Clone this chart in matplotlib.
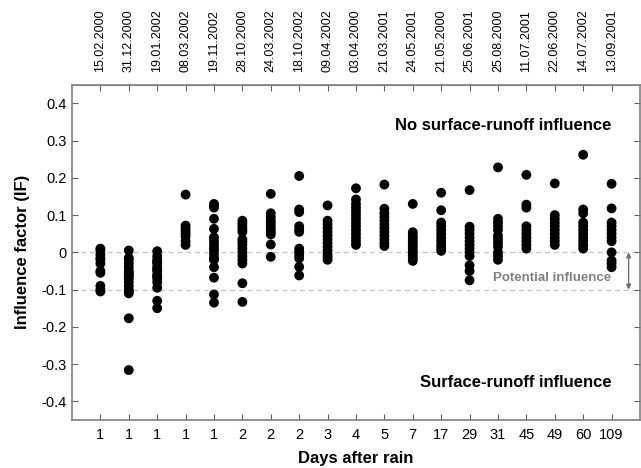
import matplotlib
matplotlib.use("Agg")
import matplotlib.pyplot as plt
import numpy as np

plt.rcParams['font.family'] = ['Liberation Sans', 'DejaVu Sans']

days = ["1", "1", "1", "1", "1", "2", "2", "2", "3", "4", "5", "7", "17", "29", "31", "45", "49", "60", "109"]
dates = ["15.02.2000", "31.12.2000", "19.01.2002", "08.03.2002", "19.11.2002", "28.10.2000",
         "24.03.2002", "18.10.2002", "09.04.2002", "03.04.2000", "21.03.2001", "24.05.2001",
         "21.05.2000", "25.06.2001", "25.08.2000", "11.07.2001", "22.06.2000", "14.07.2002", "13.09.2001"]

if_01 = [0.01, 0.005, -0.005, -0.015, -0.02, -0.03, -0.05, -0.055, -0.09, -0.1, -0.105]
if_02 = [0.005, -0.015, -0.02, -0.03, -0.04, -0.05, -0.055, -0.06, -0.065, -0.07, -0.08, -0.09, -0.1, -0.105, -0.11, -0.177, -0.316]
if_03 = [0.003, -0.01, -0.02, -0.025, -0.03, -0.04, -0.045, -0.05, -0.06, -0.065, -0.07, -0.08, -0.095, -0.13, -0.15]
if_04 = [0.155, 0.072, 0.065, 0.058, 0.05, 0.042, 0.03, 0.02]
if_05 = [0.13, 0.125, 0.12, 0.09, 0.063, 0.04, 0.03, 0.02, 0.012, 0.005, -0.005, -0.015, -0.02, -0.04, -0.068, -0.113, -0.135]
if_06 = [0.085, 0.078, 0.07, 0.062, 0.055, 0.035, 0.028, 0.02, 0.01, 0.0, -0.01, -0.02, -0.03, -0.083, -0.133]
if_07 = [0.157, 0.105, 0.095, 0.085, 0.078, 0.07, 0.062, 0.055, 0.048, 0.021, -0.012]
if_08 = [0.205, 0.115, 0.108, 0.07, 0.062, 0.055, 0.01, 0.002, -0.008, -0.016, -0.039, -0.062]
if_09 = [0.126, 0.085, 0.075, 0.065, 0.055, 0.045, 0.035, 0.025, 0.015, 0.005, -0.005, -0.012, -0.02]
if_10 = [0.172, 0.142, 0.13, 0.12, 0.11, 0.1, 0.09, 0.08, 0.07, 0.06, 0.05, 0.04, 0.03, 0.02]
if_11 = [0.182, 0.117, 0.105, 0.095, 0.085, 0.075, 0.065, 0.055, 0.045, 0.035, 0.025, 0.017]
if_12 = [0.13, 0.054, 0.045, 0.038, 0.03, 0.022, 0.015, 0.007, 0.0, -0.008, -0.015, -0.023]
if_13 = [0.16, 0.113, 0.08, 0.07, 0.06, 0.05, 0.04, 0.03, 0.02, 0.012, 0.004]
if_14 = [0.167, 0.069, 0.06, 0.05, 0.04, 0.03, 0.02, 0.01, 0.0, -0.01, -0.035, -0.05, -0.075]
if_15 = [0.228, 0.09, 0.08, 0.07, 0.06, 0.045, 0.035, 0.025, 0.015, 0.0, -0.01, -0.02]
if_16 = [0.208, 0.128, 0.12, 0.07, 0.06, 0.05, 0.04, 0.03, 0.02, 0.01]
if_17 = [0.185, 0.1, 0.09, 0.08, 0.07, 0.06, 0.05, 0.04, 0.03, 0.02]
if_18 = [0.262, 0.115, 0.105, 0.08, 0.07, 0.06, 0.05, 0.04, 0.03, 0.02, 0.01]
if_19 = [0.184, 0.118, 0.08, 0.07, 0.06, 0.05, 0.04, 0.03, 0.0, -0.022, -0.03, -0.04]

series = [if_01, if_02, if_03, if_04, if_05, if_06, if_07, if_08, if_09, if_10,
          if_11, if_12, if_13, if_14, if_15, if_16, if_17, if_18, if_19]

yticks = [0.4, 0.3, 0.2, 0.1, 0.0, -0.1, -0.2, -0.3, -0.4]
ytick_labels = ["0.4", "0.3", "0.2", "0.1", "0", "-0.1", "-0.2", "-0.3", "-0.4"]

fig = plt.figure(figsize=(6.41, 4.68), dpi=100)
ax = fig.add_axes([0.1123, 0.1026, 0.8861, 0.7164])

positions = np.arange(1, len(series) + 1)
for pos, vals in zip(positions, series):
    ax.scatter([pos] * len(vals), vals, s=50, color='black', edgecolors='none', zorder=3)

ax.axhline(0.0, color='#c4c4c4', lw=0.9, ls=(0, (4, 3)), zorder=1)
ax.axhline(-0.1, color='#c4c4c4', lw=0.9, ls=(0, (4, 3)), zorder=1)

ax.set_xlim(0, len(series) + 1)
ax.set_ylim(-0.45, 0.45)
ax.set_xticks(positions)
ax.set_xticklabels(days, fontsize=10.5)
ax.set_yticks(yticks)
ax.set_yticklabels(ytick_labels, fontsize=10.5)

for sp in ax.spines.values():
    sp.set_color('#808080')
    sp.set_linewidth(1.2)

ax.tick_params(axis='both', direction='in', length=4, width=0.8, color='#606060',
               right=True, pad=6)
ax.tick_params(axis='y', pad=4)

top = ax.secondary_xaxis('top')
top.set_xticks(positions)
top.set_xticklabels(dates, rotation=90, fontsize=9)
top.tick_params(direction='in', length=4, width=0.8, color='#606060', pad=9)
top.spines['top'].set_color('#808080')

ax.set_xlabel("Days after rain", fontsize=12, fontweight='bold', labelpad=6)
ax.set_ylabel("Influence factor (IF)", fontsize=12, fontweight='bold', labelpad=8)

ax.text(19.0, 0.34, "No surface-runoff influence", fontsize=12, fontweight='bold',
        ha='right', va='center')
ax.text(19.0, -0.35, "Surface-runoff influence", fontsize=12, fontweight='bold',
        ha='right', va='center')
ax.text(19.0, -0.07, "Potential influence", fontsize=9.5, fontweight='bold',
        color='#808080', ha='right', va='center')

ax.annotate("", xy=(19.6, -0.1), xytext=(19.6, 0.0),
            arrowprops=dict(arrowstyle='<|-|>', color='#707070', lw=1.0,
                            mutation_scale=7, shrinkA=0, shrinkB=0))

fig.savefig("out.png", dpi=100)
